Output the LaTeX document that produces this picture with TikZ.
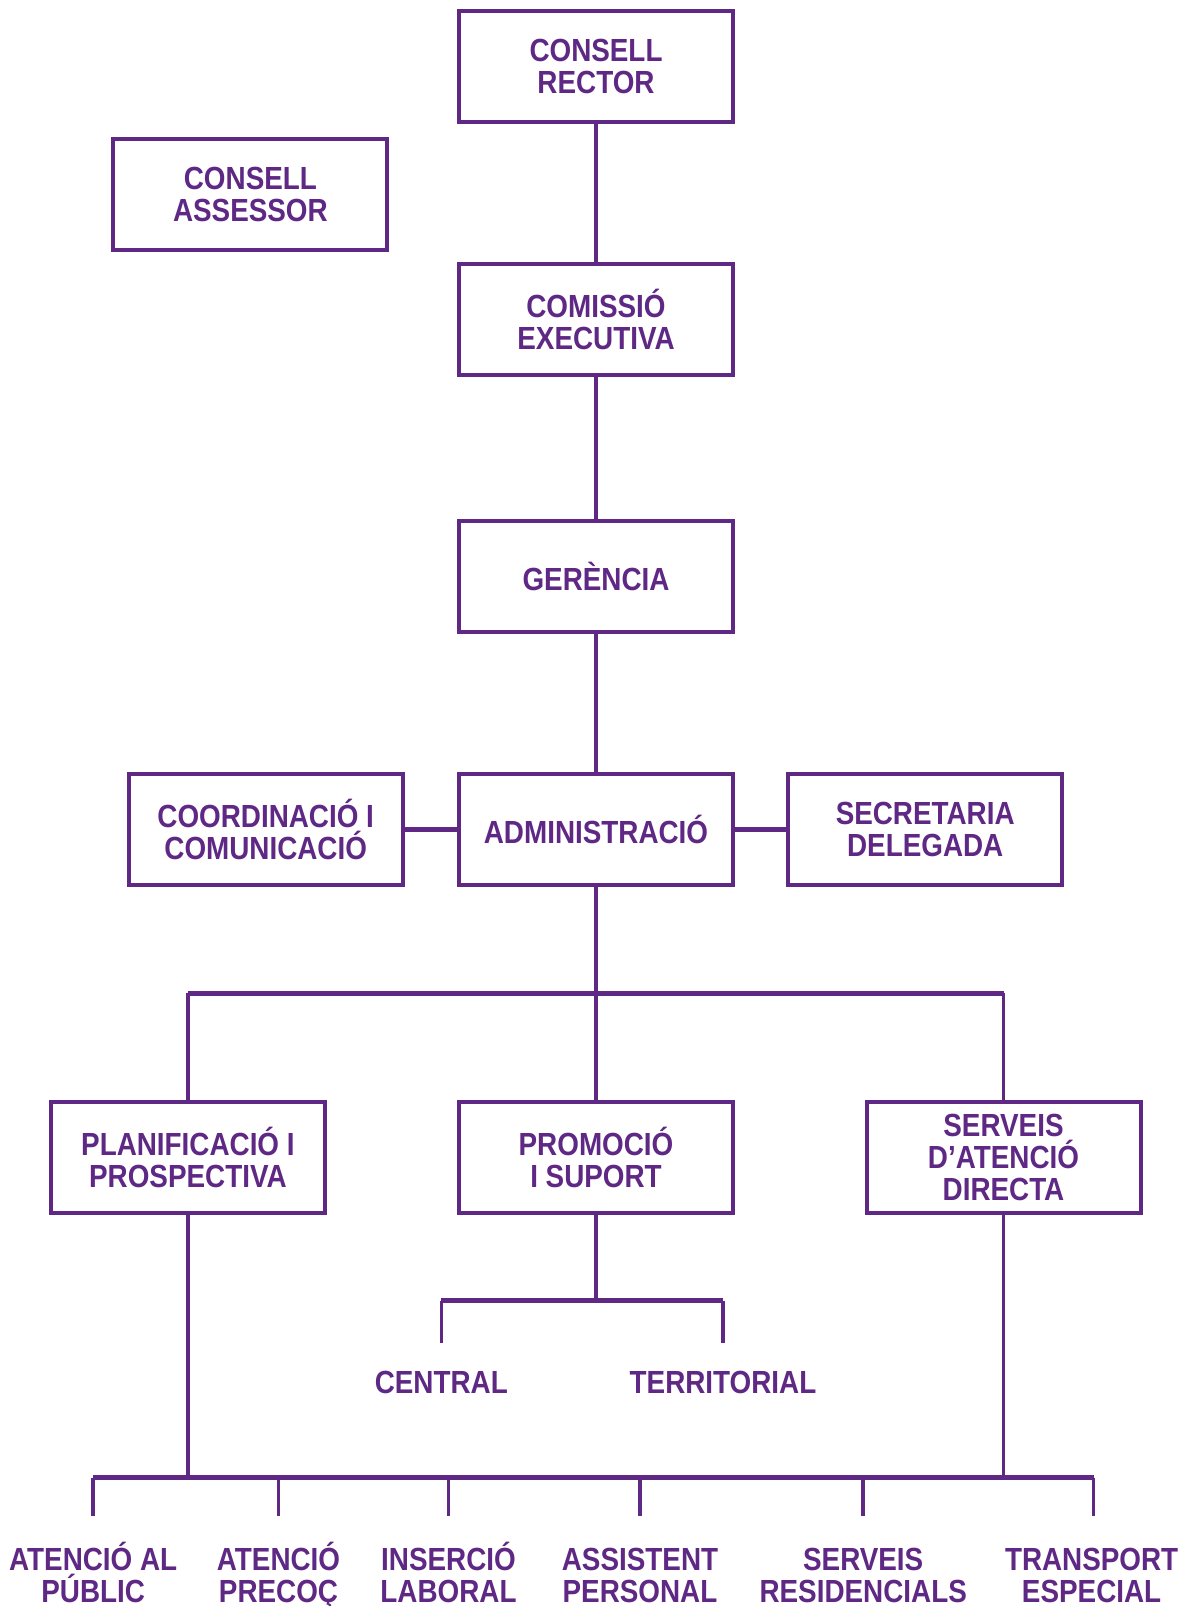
\documentclass[tikz,border=0pt]{standalone}
\usepackage{fontspec}
\setmainfont[FakeStretch=0.87]{Liberation Sans}
\usepackage{tikz}
\definecolor{orgPurple}{RGB}{94,40,132}
\tikzset{
    OrgBox/.style={
        draw=orgPurple,
        line width=2pt,
        minimum width=137pt,
        minimum height=55.5pt,
        inner sep=0pt,
        align=center,
        text=orgPurple,
        font=\fontsize{16}{16}\selectfont\bfseries
    }
}
\tikzset{
    Leaf/.style={
        inner sep=0pt,
        align=center,
        text=orgPurple,
        font=\fontsize{16}{16}\selectfont\bfseries
    }
}
\tikzset{
    link/.style={draw=orgPurple, line width=1.8pt},
    bar/.style={draw=orgPurple, line width=2.8pt}
}
\newcommand{\drawBox}[3]{\node[OrgBox] (#1) at #2 {#3}}
\newcommand{\drawLeaf}[3]{\node[Leaf] (#1) at #2 {#3}}
\newcommand{\drawUnit}[3]{\node[Leaf,anchor=north] (#1) at #2 {\rule{0pt}{16pt}#3}}

\begin{document}
\begin{tikzpicture}[x=0.5pt,y=-0.5pt]

    \path[fill=white,use as bounding box] (0,0) rectangle (1192,1606);

    \drawBox{rector}{(596,66.5)}{CONSELL\\RECTOR};
    \drawBox{assessor}{(250.4,194)}{CONSELL\\ASSESSOR};
    \drawBox{comissio}{(596,319.5)}{COMISSIÓ\\EXECUTIVA};
    \drawBox{gerencia}{(596,576.5)}{GERÈNCIA};

    \drawBox{admin}{(596,829.4)}{ADMINISTRACIÓ};
    \drawBox{coord}{(265.7,829.4)}{COORDINACIÓ I\\COMUNICACIÓ};
    \drawBox{secret}{(925.2,829.4)}{SECRETARIA\\DELEGADA};

    \drawBox{planif}{(187.9,1157)}{PLANIFICACIÓ I\\PROSPECTIVA};
    \drawBox{promo}{(596,1157)}{PROMOCIÓ\\I SUPORT};
    \drawBox{serveis}{(1003.5,1157)}{SERVEIS\\D’ATENCIÓ\\DIRECTA};

    \drawLeaf{central}{(441.3,1382)}{CENTRAL};
    \drawLeaf{territ}{(723,1382)}{TERRITORIAL};

    \drawUnit{l1}{(93.2,1538)}{ATENCIÓ AL\\PÚBLIC};
    \drawUnit{l2}{(278.5,1538)}{ATENCIÓ\\PRECOÇ};
    \drawUnit{l3}{(448.5,1538)}{INSERCIÓ\\LABORAL};
    \drawUnit{l4}{(640,1538)}{ASSISTENT\\PERSONAL};
    \drawUnit{l5}{(863.2,1538)}{SERVEIS\\RESIDENCIALS};
    \drawUnit{l6}{(1091.6,1538)}{TRANSPORT\\ESPECIAL};

    \draw[link] (rector) -- (comissio);
    \draw[link] (comissio) -- (gerencia);
    \draw[link] (gerencia) -- (admin);
    \draw[bar] (coord) -- (admin);
    \draw[bar] (admin) -- (secret);

    \coordinate (split) at (596,993.3);
    \draw[link] (admin.south) -- (split);
    \draw[bar] (planif.north |- split) -- (serveis.north |- split);
    \draw[link] (planif.north |- split) -- (planif.north);
    \draw[link] (split) -- (promo.north);
    \draw[link] (serveis.north |- split) -- (serveis.north);

    \coordinate (fork) at (596,1300.5);
    \coordinate (cEnd) at (441.3,1342.5);
    \coordinate (tEnd) at (723,1342.5);
    \draw[link] (promo.south) -- (fork);
    \draw[bar] (cEnd |- fork) -- (tEnd |- fork);
    \draw[link] (cEnd |- fork) -- (cEnd);
    \draw[link] (tEnd |- fork) -- (tEnd);

    \coordinate (low) at (0,1477.6);
    \draw[link] (planif.south) -- (planif.south |- low);
    \draw[link] (serveis.south) -- (serveis.south |- low);
    \draw[bar] (93.2,1477.6) -- (1093.5,1477.6);
    \foreach \x/\n in {93.2/1,278.5/2,448.5/3,640/4,863.2/5,1093.5/6}{
        \coordinate (d\n) at (\x,1515.5);
        \draw[link] (d\n |- low) -- (d\n);
    }

\end{tikzpicture}
\end{document}
